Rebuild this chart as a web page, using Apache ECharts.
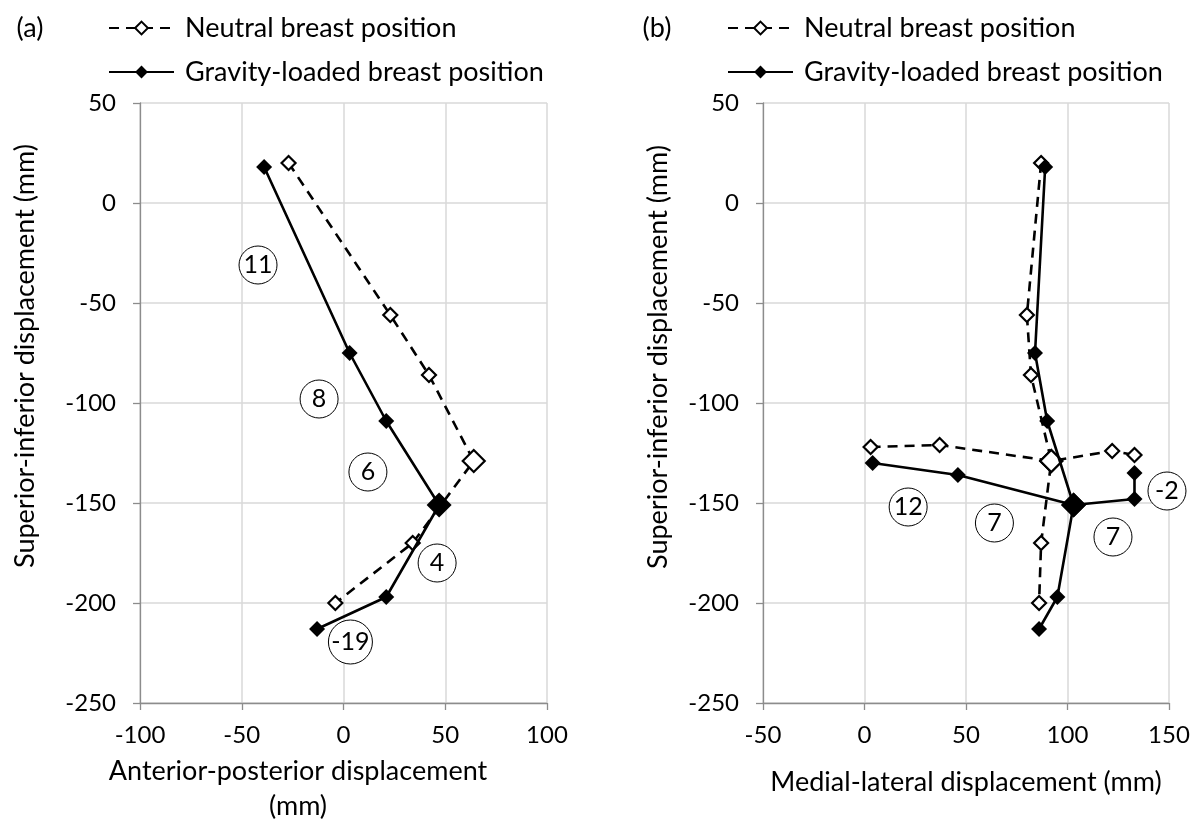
<!DOCTYPE html>
<html>
<head>
<meta charset="utf-8">
<script src="https://cdn.jsdelivr.net/npm/echarts@6/dist/echarts.min.js"></script>
<style>
  html, body { margin: 0; padding: 0; background: #fff; }
  #main { width: 1199px; height: 823px; }
</style>
</head>
<body>
<div id="main"></div>
<script>
var FONT = 'Lato';

// (a) anterior-posterior vs superior-inferior, [x, y] in mm
var apNeutral = [[-27, 20], [23, -56], [42, -86], [64, -129], [34, -170], [-4, -200]];
var apGravity = [[-39, 18], [3, -75], [21, -109], [47, -151], [21, -197], [-13, -213]];

// (b) medial-lateral vs superior-inferior, two chains per position
var mlNeutralSI = [[87, 20], [80, -56], [82, -86], [92, -129], [87, -170], [86, -200]];
var mlNeutralML = [[3, -122], [37, -121], [92, -129], [122, -124], [133, -126]];
var mlGravitySI = [[89, 18], [84, -75], [90, -109], [103, -151], [95, -197], [86, -213]];
var mlGravityML = [[4, -130], [46, -136], [103, -151], [133, -148], [133, -135]];

// circled annotations [x, y, text]
var notesA = [[-42, -31, '11'], [-12, -98, '8'], [12, -134.5, '6'], [46, -180, '4'], [3.4, -219.5, '-19']];
var notesB = [[21.5, -152, '12'], [64, -160, '7'], [122.4, -167, '7'], [149, -144, '-2']];

var xTicksA = [-100, 100, 50];
var xTicksB = [-50, 150, 50];
var yTicks = [-250, 50, 50];

var NEUTRAL = 'Neutral breast position';
var GRAVITY = 'Gravity-loaded breast position';

var myChart = echarts.init(document.getElementById('main'));

function sameXY(a, b) {
    return a[0] === b[0] && a[1] === b[1];
}

// junction point gets the larger marker
function toItems(points, hub, small, big) {
    return points.map(function (p) {
        return { value: p, symbolSize: sameXY(p, hub) ? big : small };
    });
}

function neutralSeries(points, hub, idx) {
    return {
        name: NEUTRAL,
        type: 'line',
        xAxisIndex: idx,
        yAxisIndex: idx,
        data: toItems(points, hub, 14, 22),
        symbol: 'diamond',
        showAllSymbol: true,
        lineStyle: { color: '#000', width: 2.6, type: [10, 7] },
        itemStyle: { color: '#fff', borderColor: '#000', borderWidth: 2.2 },
        z: 2
    };
}

function gravitySeries(points, hub, idx) {
    return {
        name: GRAVITY,
        type: 'line',
        xAxisIndex: idx,
        yAxisIndex: idx,
        data: toItems(points, hub, 16, 25),
        symbol: 'diamond',
        showAllSymbol: true,
        lineStyle: { color: '#000', width: 2.6 },
        itemStyle: { color: '#000', borderColor: '#000', borderWidth: 0 },
        z: 3
    };
}

function noteSeries(notes, idx) {
    return {
        type: 'scatter',
        xAxisIndex: idx,
        yAxisIndex: idx,
        clip: false,
        silent: true,
        symbol: 'circle',
        data: notes.map(function (n) {
            return { value: [n[0], n[1]], name: n[2], symbolSize: n[2].length > 2 ? 44 : 38 };
        }),
        itemStyle: { color: '#fff', borderColor: '#000', borderWidth: 1, opacity: 1 },
        label: {
            show: true,
            position: 'inside',
            formatter: '{b}',
            color: '#000',
            fontFamily: FONT,
            fontSize: 25
        },
        z: 4
    };
}

function xAxisOf(ticks, idx) {
    return {
        type: 'value',
        gridIndex: idx,
        min: ticks[0],
        max: ticks[1],
        interval: ticks[2],
        axisLine: { onZero: false, lineStyle: { color: '#8c8c8c', width: 1.3 } },
        axisTick: { show: true, length: 7, lineStyle: { color: '#8c8c8c', width: 1.3 } },
        axisLabel: { color: '#000', fontFamily: FONT, fontSize: 24, margin: 20 },
        splitLine: { show: true, lineStyle: { color: '#d9d9d9', width: 1.5 } }
    };
}

function yAxisOf(idx) {
    return {
        type: 'value',
        gridIndex: idx,
        min: yTicks[0],
        max: yTicks[1],
        interval: yTicks[2],
        axisLine: { show: true, onZero: false, lineStyle: { color: '#8c8c8c', width: 1.3 } },
        axisTick: { show: true, length: 7, lineStyle: { color: '#8c8c8c', width: 1.3 } },
        axisLabel: { color: '#000', fontFamily: FONT, fontSize: 24, margin: 24 },
        splitLine: { show: true, lineStyle: { color: '#d9d9d9', width: 1.5 } }
    };
}

function legendOf(left) {
    return {
        orient: 'vertical',
        left: left,
        top: 13,
        padding: 0,
        itemWidth: 65,
        itemHeight: 16,
        itemGap: 14,
        selectedMode: false,
        data: [NEUTRAL, GRAVITY],
        textStyle: { color: '#000', fontFamily: FONT, fontSize: 27, lineHeight: 30, padding: [0, 0, 0, 6] }
    };
}

function text(x, y, str, rot) {
    return {
        type: 'text',
        x: x,
        y: y,
        rotation: rot || 0,
        silent: true,
        style: {
            text: str,
            fill: '#000',
            font: '27px ' + FONT,
            fontFamily: FONT,
            fontSize: 27,
            lineHeight: 35,
            textAlign: 'center',
            textVerticalAlign: 'middle',
            align: 'center',
            verticalAlign: 'middle'
        }
    };
}

var option = {
    animation: false,
    backgroundColor: '#fff',
    grid: [
        { left: 140, top: 103, width: 407, height: 600 },
        { left: 763, top: 103, width: 406, height: 600 }
    ],
    xAxis: [xAxisOf(xTicksA, 0), xAxisOf(xTicksB, 1)],
    yAxis: [yAxisOf(0), yAxisOf(1)],
    legend: [legendOf(108), legendOf(727)],
    series: [
        neutralSeries(apNeutral, apNeutral[3], 0),
        gravitySeries(apGravity, apGravity[3], 0),
        noteSeries(notesA, 0),
        neutralSeries(mlNeutralSI, mlNeutralSI[3], 1),
        neutralSeries(mlNeutralML, mlNeutralSI[3], 1),
        gravitySeries(mlGravitySI, mlGravitySI[3], 1),
        gravitySeries(mlGravityML, mlGravitySI[3], 1),
        noteSeries(notesB, 1)
    ],
    graphic: [
        text(30, 28, '(a)'),
        text(657, 28, '(b)'),
        text(25, 356, 'Superior-inferior displacement (mm)', Math.PI / 2),
        text(658, 357, 'Superior-inferior displacement (mm)', Math.PI / 2),
        text(298, 789, 'Anterior-posterior displacement\n(mm)'),
        text(966, 782, 'Medial-lateral displacement (mm)')
    ]
};

myChart.setOption(option);
</script>
</body>
</html>
